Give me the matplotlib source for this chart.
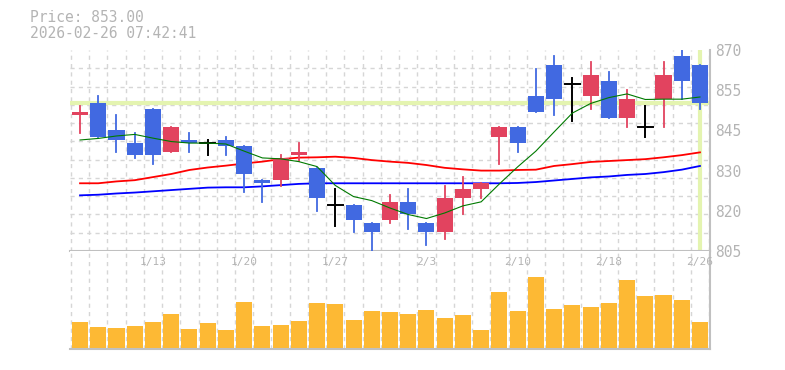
import matplotlib
matplotlib.use("Agg")
import matplotlib.pyplot as plt
from matplotlib.patches import Rectangle
from matplotlib.transforms import blended_transform_factory

# daily data
dates = ["1/6", "1/7", "1/8", "1/9", "1/13", "1/14", "1/15", "1/16", "1/19", "1/20",
         "1/21", "1/22", "1/23", "1/26", "1/27", "1/28", "1/29", "1/30", "2/2", "2/3",
         "2/4", "2/5", "2/6", "2/9", "2/10", "2/12", "2/13", "2/16", "2/17", "2/18",
         "2/19", "2/20", "2/24", "2/25", "2/26"]
opens = [849, 853, 844, 840, 851, 837, 841, 840, 841, 839,
         828, 828, 836, 832, 820, 820, 814, 815, 821, 814,
         811, 822, 825, 842, 845, 855, 865, 859, 855, 860,
         848, 845, 854, 868, 865]
highs = [852, 855, 849, 843, 851, 845, 843, 841, 842, 839,
         828, 836, 840, 832, 825, 820, 814, 823, 825, 814,
         826, 829, 827, 845, 845, 864, 868, 861, 866, 863,
         857, 852, 866, 870, 865]
lows = [843, 842, 837, 835, 833, 837, 837, 836, 836, 824,
        821, 826, 834, 818, 813, 811, 805, 814, 812, 807,
        809, 817, 822, 833, 837, 850, 849, 847, 851, 848,
        845, 842, 845, 854, 851]
closes = [850, 842, 841, 836, 836, 845, 840, 840, 839, 830,
          827, 835, 837, 822, 820, 815, 811, 821, 817, 811,
          822, 825, 827, 845, 840, 850, 854, 859, 862, 848,
          854, 845, 862, 860, 853]
ma5 = [840.9, 841.4, 842.2, 842.7, 841.5, 840.4, 839.9, 839.9, 839.6, 837.3,
       835.1, 834.8, 833.9, 832.3, 826.2, 822.6, 821.3, 818.9, 816.8, 815.5,
       817.3, 819.6, 820.9, 826.7, 832.2, 837.3, 843.5, 849.6, 852.7, 854.6,
       855.8, 854.0, 854.1, 854.1, 854.8]
ma25 = [826.9, 826.9, 827.5, 827.9, 828.9, 829.9, 831.2, 832.0, 832.6, 833.3,
        833.9, 834.7, 835.2, 835.3, 835.5, 835.1, 834.4, 833.9, 833.5, 832.8,
        831.9, 831.4, 831.0, 831.0, 831.2, 831.3, 832.5, 833.1, 833.8, 834.1,
        834.4, 834.7, 835.3, 836.0, 836.9]
ma75 = [823.0, 823.2, 823.6, 823.9, 824.3, 824.7, 825.1, 825.5, 825.6, 825.6,
        825.9, 826.3, 826.7, 826.9, 826.9, 826.9, 826.9, 826.9, 826.9, 826.9,
        826.9, 826.9, 826.9, 826.9, 827.0, 827.3, 827.8, 828.3, 828.8, 829.1,
        829.6, 829.9, 830.5, 831.3, 832.5]
volumes = [260, 210, 200, 220, 260, 340, 190, 250, 180, 460,
           220, 230, 270, 450, 440, 280, 370, 360, 340, 380,
           300, 330, 180, 560, 370, 710, 390, 430, 410, 450,
           680, 520, 530, 480, 260]
label_days = ["1/13", "1/20", "1/27", "2/3", "2/10", "2/18", "2/26"]
price_ticks = [870, 857, 844, 831, 818, 805]
price_labels = ["870", "855", "845", "830", "820", "805"]
last_price = 853.00
stamp = "2026-02-26 07:42:41"

UP = "#e2435f"
DOWN = "#4169e1"
GRID = "#d6d6d6"
TXT = "#b4b4b4"
EDGE = "#c0c0c0"
NOW = "#e4f4b0"
MONO = "DejaVu Sans Mono"

W, H = 785, 370
fig = plt.figure(figsize=(W / 100, H / 100), dpi=100)
ax = fig.add_axes([70 / W, 1 - 251 / H, 640 / W, 201 / H])
axv = fig.add_axes([70 / W, 1 - 349.3 / H, 640 / W, 98.3 / H])

n = len(closes)
xs = list(range(n))

for a in (ax, axv):
    a.set_xlim(-0.55, n - 1 + 0.55)
    a.set_xticks([])
    a.set_xticks([i - 0.5 for i in range(n + 1)], minor=True)
    a.tick_params(which="both", length=0)
    a.grid(which="minor", axis="x", color=GRID, linestyle=(0, (3, 3)), linewidth=1)
    for s in ("left", "top"):
        a.spines[s].set_visible(False)
    for s in ("right", "bottom"):
        a.spines[s].set_color(EDGE)
        a.spines[s].set_linewidth(1.5)
    a.set_axisbelow(True)

# price panel
ax.set_ylim(805, 870)
ax.set_yticks([805 + 65 / 11 * k for k in range(12)], minor=True)
ax.grid(which="minor", axis="y", color=GRID, linestyle=(0, (3, 3)), linewidth=1)
ax.yaxis.tick_right()
ax.set_yticks(price_ticks)
ax.set_yticklabels(price_labels, family=MONO, fontsize=10.5, color=TXT)
ax.tick_params(axis="y", which="major", length=0, pad=4)

ax.axhline(last_price, color=NOW, lw=3, zorder=1)
ax.plot([n - 1, n - 1], [805.6, 870], color=NOW, lw=3, zorder=1)

ax.plot(xs, ma75, color="#0000ff", lw=1.3, zorder=2)
ax.plot(xs, ma25, color="#ff0000", lw=1.3, zorder=2)

for i in xs:
    o, h, l, c = opens[i], highs[i], lows[i], closes[i]
    if c == o:
        ax.plot([i, i], [l, h], color="black", lw=1.4, zorder=3)
        ax.plot([i - 0.42, i + 0.42], [o, o], color="black", lw=1.4, zorder=3)
        continue
    col = UP if c > o else DOWN
    ax.plot([i, i], [l, h], color=col, lw=1.3, zorder=3)
    ax.add_patch(Rectangle((i - 0.44, min(o, c)), 0.88, abs(c - o),
                           facecolor=col, edgecolor="none", zorder=4))

ax.plot(xs, ma5, color="#007a00", lw=0.8, zorder=5)

# volume panel
axv.set_ylim(-13, 970)
axv.set_yticks([])
axv.bar(xs, volumes, width=0.88, color="#fdb934", zorder=2)
tr = blended_transform_factory(axv.transData, axv.transAxes)
for d in label_days:
    axv.text(dates.index(d), 0.885, d, transform=tr, ha="center", va="center",
             family=MONO, fontsize=8, color=TXT)

fig.text(30 / W, 1 - 18 / H, "Price: %.2f" % last_price, family=MONO,
         fontsize=10.5, color=TXT, va="center")
fig.text(30 / W, 1 - 33 / H, stamp, family=MONO, fontsize=10.5, color=TXT,
         va="center")

fig.savefig("out.png", dpi=100)
